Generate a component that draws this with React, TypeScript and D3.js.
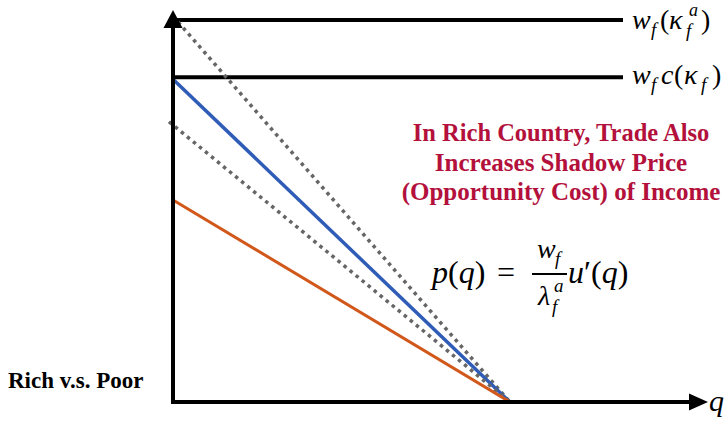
import React from "react";
import * as d3 from "d3";

// Price levels (in units of the top wage line) for the two horizontal references
const levelNames = ["wfKappaA", "wfCKappa"];
const levelValues = [1.0, 0.85];

// Linear demand curves p(q) = a * (1 - q / qChoke), drawn from qStart to the choke point
const curveNames = ["dottedHigh", "blueRich", "dottedLow", "orangePoor"];
const curveIntercepts = [1.01, 0.845, 0.725, 0.529];
const curveStarts = [0.015, 0, -0.012, 0];
const qChoke = 1;

const annotationLines = [
  "In Rich Country, Trade Also",
  "Increases Shadow Price",
  "(Opportunity Cost) of Income",
];

const W = 728;
const H = 423;

const x = d3.scaleLinear().domain([0, 1.6]).range([173, 712]);
const y = d3.scaleLinear().domain([0, 1]).range([402, 20]);

const curveStyle: Record<string, { stroke: string; width: number; dash?: string }> = {
  dottedHigh: { stroke: "#666666", width: 3.5, dash: "3.5 4.3" },
  blueRich: { stroke: "#2f5cb6", width: 3.5 },
  dottedLow: { stroke: "#666666", width: 3.5, dash: "3.5 4.3" },
  orangePoor: { stroke: "#d1571b", width: 3 },
};

const serifStack = '"Liberation Serif", "Times New Roman", Times, "DejaVu Serif", serif';
const mathStyle = { fontFamily: serifStack };
const crimson = "#b3113c";

export default function App() {
  const line = d3
    .line<[number, number]>()
    .x((d) => x(d[0]))
    .y((d) => y(d[1]));

  const axisX0 = x(0);
  const axisY0 = y(0);
  const yTop = 10;
  const xTip = 708;

  return (
    <svg width={W} height={H} style={{ position: "absolute", left: 0, top: 0 }}>
      <rect width={W} height={H} fill="#ffffff" />

      {/* horizontal reference levels */}
      {levelValues.map((v, i) => (
        <line
          key={levelNames[i]}
          x1={axisX0}
          x2={623}
          y1={y(v)}
          y2={y(v)}
          stroke="#000"
          strokeWidth={4}
        />
      ))}

      {/* demand curves */}
      {curveNames.map((name, i) => {
        const a = curveIntercepts[i];
        const q0 = curveStarts[i];
        const pts: [number, number][] = [
          [q0, a * (1 - q0 / qChoke)],
          [qChoke, 0],
        ];
        const s = curveStyle[name];
        return (
          <path
            key={name}
            d={line(pts) || ""}
            fill="none"
            stroke={s.stroke}
            strokeWidth={s.width}
            strokeDasharray={s.dash}
          />
        );
      })}

      {/* axes */}
      <line x1={axisX0} x2={axisX0} y1={axisY0 + 2} y2={yTop + 16} stroke="#000" strokeWidth={4} />
      <path d={`M${axisX0},${yTop} L${axisX0 - 9.5},${yTop + 18} L${axisX0 + 9.5},${yTop + 18} Z`} fill="#000" />
      <line x1={axisX0 - 2} x2={xTip - 16} y1={axisY0} y2={axisY0} stroke="#000" strokeWidth={4} />
      <path d={`M${xTip},${axisY0} L${xTip - 19},${axisY0 - 8.5} L${xTip - 19},${axisY0 + 8.5} Z`} fill="#000" />

      {/* axis label */}
      <text x={709} y={411} style={mathStyle} fontStyle="italic" fontSize={30}>q</text>

      {/* level labels */}
      <g style={mathStyle} fontStyle="italic" fontSize={28}>
        <text x={632} y={29}>w</text>
        <text x={651} y={36} fontSize={19}>f</text>
        <text x={660} y={29} fontStyle="normal">(</text>
        <text x={669} y={29}>κ</text>
        <text x={686} y={37} fontSize={19}>f</text>
        <text x={689} y={16} fontSize={18}>a</text>
        <text x={701} y={29} fontStyle="normal">)</text>

        <text x={632} y={84}>w</text>
        <text x={651} y={91} fontSize={19}>f</text>
        <text x={661} y={84}>c</text>
        <text x={674} y={84} fontStyle="normal">(</text>
        <text x={684} y={84}>κ</text>
        <text x={701} y={91} fontSize={19}>f</text>
        <text x={712} y={84} fontStyle="normal">)</text>
      </g>

      {/* annotation */}
      <g style={mathStyle} fontWeight="bold" fill={crimson} textAnchor="middle">
        {annotationLines.map((t, i) => (
          <text key={t} x={561} y={141 + i * 29.5} fontSize={i === 0 ? 24.5 : 25}>
            {t}
          </text>
        ))}
      </g>

      {/* inverse demand formula */}
      <g style={mathStyle} fontSize={32}>
        <text x={432} y={283}>
          <tspan fontStyle="italic">p</tspan>(<tspan fontStyle="italic">q</tspan>)
        </text>
        <text x={497} y={283}>=</text>
        <text x={537} y={258} fontStyle="italic" fontSize={28}>w</text>
        <text x={555} y={265} fontStyle="italic" fontSize={19}>f</text>
        <line x1={532} x2={567} y1={274} y2={274} stroke="#000" strokeWidth={2} />
        <text x={538} y={305} fontStyle="italic" fontSize={28}>λ</text>
        <text x={552} y={313} fontStyle="italic" fontSize={19}>f</text>
        <text x={554} y={292} fontStyle="italic" fontSize={19}>a</text>
        <text x={568} y={283}>
          <tspan fontStyle="italic">u</tspan>′(<tspan fontStyle="italic">q</tspan>)
        </text>
      </g>

      {/* panel title */}
      <text x={8} y={388} style={mathStyle} fontWeight="bold" fontSize={23} fill="#000">
        Rich v.s. Poor
      </text>
    </svg>
  );
}
